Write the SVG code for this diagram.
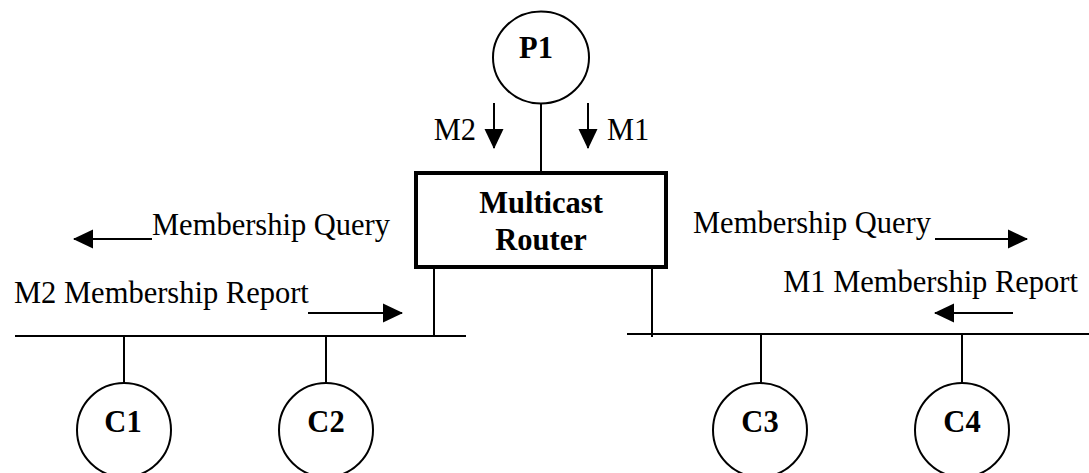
<svg xmlns="http://www.w3.org/2000/svg" width="1089" height="473" viewBox="0 0 1089 473">
<style>
.t{font-family:"Liberation Serif","Times New Roman",serif;font-size:30.5px;fill:#000}
.b{font-weight:bold;text-anchor:middle}
.ln{stroke:#000;stroke-width:2;fill:none}
.nd{stroke:#000;stroke-width:2;fill:#fff}
</style>
<defs>
<marker id="ah" markerUnits="userSpaceOnUse" markerWidth="20" markerHeight="20" viewBox="0 0 20 20" refX="19" refY="10" orient="auto">
<path d="M0,0.5 L20,10 L0,19.5 Z" fill="#000"/>
</marker>
</defs>
<rect width="1089" height="473" fill="#fff"/>
<g id="connectors">
<line class="ln" x1="541" y1="103" x2="541" y2="173"/>
<line class="ln" x1="434" y1="267" x2="434" y2="337"/>
<line class="ln" x1="652" y1="267" x2="652" y2="337"/>
<line class="ln" x1="15" y1="336" x2="466" y2="336"/>
<line class="ln" x1="627" y1="334" x2="1089" y2="334"/>
<line class="ln" x1="124" y1="336" x2="124" y2="383"/>
<line class="ln" x1="326" y1="336" x2="326" y2="383"/>
<line class="ln" x1="761" y1="334" x2="761" y2="383"/>
<line class="ln" x1="962" y1="334" x2="962" y2="383"/>
<line class="ln" x1="494" y1="103" x2="494" y2="148" marker-end="url(#ah)"/>
<line class="ln" x1="588" y1="103" x2="588" y2="148" marker-end="url(#ah)"/>
<line class="ln" x1="152" y1="239" x2="74" y2="239" marker-end="url(#ah)"/>
<line class="ln" x1="308" y1="313" x2="402" y2="313" marker-end="url(#ah)"/>
<line class="ln" x1="935" y1="239" x2="1027" y2="239" marker-end="url(#ah)"/>
<line class="ln" x1="1013" y1="313" x2="935" y2="313" marker-end="url(#ah)"/>
</g>
<g id="labels">
<text class="t" x="476" y="140" text-anchor="end">M2</text>
<text class="t" x="607" y="140">M1</text>
<text class="t" x="152" y="235">Membership Query</text>
<text class="t" x="693" y="233">Membership Query</text>
<text class="t" x="14" y="303">M2 Membership Report</text>
<text class="t" x="1078" y="292" text-anchor="end">M1 Membership Report</text>
</g>
<g id="P1">
<ellipse class="nd" cx="541" cy="57.5" rx="48" ry="46"/>
<text class="t b" x="536" y="58">P1</text>
</g>
<g id="router">
<rect x="416" y="173" width="250" height="94" fill="#fff" stroke="#000" stroke-width="4"/>
<text class="t b" x="541" y="213">Multicast</text>
<text class="t b" x="541" y="250">Router</text>
</g>
<g id="C1">
<circle class="nd" cx="124" cy="430" r="47"/>
<text class="t b" x="123" y="432">C1</text>
</g>
<g id="C2">
<circle class="nd" cx="326" cy="430" r="47"/>
<text class="t b" x="326" y="432">C2</text>
</g>
<g id="C3">
<circle class="nd" cx="760" cy="430" r="47"/>
<text class="t b" x="760" y="432">C3</text>
</g>
<g id="C4">
<circle class="nd" cx="962" cy="430" r="47"/>
<text class="t b" x="962" y="432">C4</text>
</g>
</svg>
